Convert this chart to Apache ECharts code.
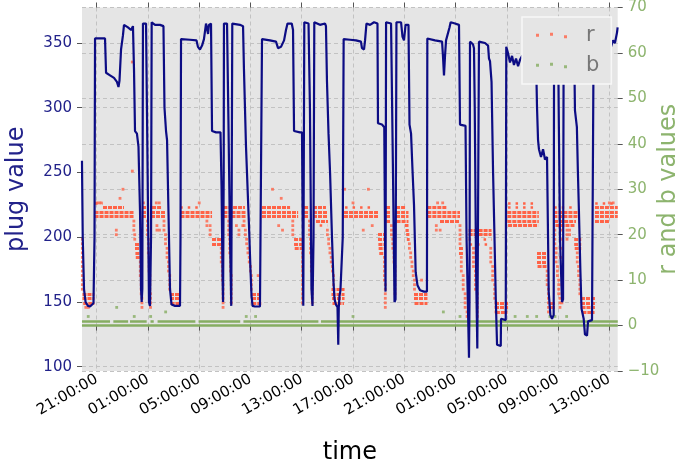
<!DOCTYPE html>
<html><head><meta charset="utf-8">
<script src="https://cdn.jsdelivr.net/npm/echarts@6/dist/echarts.min.js"></script>
<style>html,body{margin:0;padding:0;background:#fff}#c{width:685px;height:461px}</style>
</head><body><div id="c"></div>
<script>
// Time is stored as hours counted from 00:00 of the first day.
const xTickHours = [21,25,29,33,37,41,45,49,53,57,61];
const leftTicks = [100,150,200,250,300,350];
const xRange = [19.853, 61.655];
const leftRange = [96.7, 377.4];
const rightRange = [-10, 70];

// plug value trace: [hour, value]
const plug = [
[19.85,259],[19.91,200],[20.01,160],[20.13,150],[20.32,147],[20.48,146.5],[20.63,147],[20.75,149],[20.83,200],[20.87,353.5],
[21.65,353.5],[21.73,327],[22.04,325],[22.35,323],[22.58,320],[22.70,316],[22.78,321],[22.90,345],[23.05,356],[23.13,364],
[23.44,362],[23.68,360],[23.83,363],[23.91,330],[23.99,282],[24.14,280],[24.26,270],[24.38,220],[24.46,160],[24.51,150],
[24.56,160],[24.61,365],[24.85,365],[24.92,300],[25.08,150],[25.16,147],[25.24,200],[25.29,366],[25.55,364],[25.94,364],
[26.21,363],[26.29,300],[26.41,282],[26.49,275],[26.60,220],[26.72,160],[26.84,148],[27.11,147],[27.50,147],[27.54,200],
[27.58,353],[28.28,352.5],[28.79,352],[28.90,347],[29.06,345],[29.22,348],[29.37,353],[29.53,365],[29.69,357],[29.76,364],
[29.92,365],[30.00,282],[30.31,281],[30.66,281],[30.74,240],[30.82,170],[30.86,150],[30.91,250],[30.93,365],[31.17,365],
[31.28,290],[31.40,200],[31.50,147],[31.58,365],[32.18,364],[32.42,363],[32.49,330],[32.65,270],[32.88,210],[33.00,175],
[33.08,155],[33.16,147],[33.35,146.5],[33.74,146.5],[33.88,147],[33.90,353],[34.52,352],[34.99,351],[35.15,346],[35.38,347],
[35.62,352],[35.77,360],[35.89,365],[36.22,365],[36.32,360],[36.40,282],[36.86,281],[37.02,281],[37.12,147],[37.20,366],
[37.53,365],[37.64,300],[37.76,160],[37.84,147],[37.92,200],[37.98,366],[38.42,364],[38.82,365],[38.89,363],[38.97,320],
[39.09,280],[39.21,250],[39.36,200],[39.48,165],[39.56,152],[39.67,148],[39.79,146],[39.85,117],[39.89,146],[39.95,155],
[40.02,159],[40.14,159],[40.20,200],[40.27,353],[40.77,352.5],[41.23,352],[41.62,351],[41.70,346],[41.86,345],[41.94,352],
[42.05,365],[42.33,364],[42.64,366],[42.91,365],[42.95,288],[43.26,287],[43.44,285],[43.50,200],[43.54,158],[43.58,366],
[43.97,365],[44.12,250],[44.24,150],[44.32,152],[44.39,366],[44.75,366],[44.86,355],[44.98,352],[45.10,364],[45.33,364],
[45.41,287],[45.53,280],[45.63,255],[45.76,225],[45.89,173],[46.03,163],[46.23,159],[46.54,158],[46.77,158],[46.80,353.5],
[47.40,352],[47.95,351],[48.02,340],[48.10,325],[48.18,340],[48.26,352],[48.41,353],[48.53,362],[48.62,366],[48.96,365],
[49.27,364],[49.35,287],[49.78,286],[49.86,200],[50.05,107],[50.09,150],[50.13,351],[50.36,349],[50.44,346],[50.50,300],
[50.60,180],[50.70,114],[50.78,113],[50.83,351],[51.30,350],[51.54,348],[51.61,338],[51.69,336],[51.81,320],[51.93,250],
[52.04,200],[52.14,153],[52.24,117],[52.53,116],[52.55,137],[52.92,136],[52.96,347],[53.10,342],[53.25,335],[53.41,340],
[53.56,333],[53.72,338],[53.88,332],[54.03,337],[54.19,340],[55.28,340],[55.36,300],[55.44,275],[55.51,268],[55.67,262],
[55.83,268],[55.98,260],[56.14,262],[56.22,200],[56.27,158],[56.40,140],[56.53,137],[56.66,140],[56.69,360],[57.00,362],
[57.05,300],[57.15,200],[57.31,150],[57.39,152],[57.44,360],[57.93,362],[58.24,360],[58.32,298],[58.47,285],[58.55,250],
[58.63,220],[58.74,175],[58.83,145],[59.00,137],[59.10,125],[59.26,124],[59.34,135],[59.65,136],[59.73,137],[59.78,360],
[60.27,355],[60.95,350],[61.13,347],[61.29,352],[61.44,350],[61.60,358],[61.65,362]
];

// r: dense runs [r, fromHour, toHour]
const rBands = [
[7,19.89,20.82],[6,19.89,20.82],[5,19.95,20.82],
[25,20.83,23.91],[24,20.83,23.91],[26,21.49,23.13],
[18,23.99,24.42],[17,23.99,24.42],[16,24.02,24.42],[15,24.05,24.42],
[25,24.53,24.92],[24,24.53,24.92],[26,24.61,24.85],
[25,25.24,26.33],[24,25.24,26.33],[26,25.32,26.10],
[7,26.72,27.54],[6,26.72,27.54],[5,26.76,27.54],
[25,27.54,30.00],[24,27.54,30.00],
[19,30.00,30.70],[18,30.00,30.70],
[26,30.89,31.32],[25,30.89,31.32],[24,30.89,31.32],
[25,31.52,32.65],[24,31.52,32.65],[26,31.64,32.57],
[7,33.12,33.90],[6,33.12,33.90],[5,33.14,33.90],
[26,33.90,36.09],[25,33.90,36.72],[24,33.90,36.72],
[19,36.40,37.06],[18,36.40,37.06],[17,36.45,37.06],
[26,37.18,37.57],[25,37.18,37.57],[24,37.18,37.57],
[26,37.88,38.89],[25,37.88,38.97],[24,37.88,38.97],[23,38.11,39.05],
[8,39.32,40.34],[7,39.32,40.34],[6,39.36,40.34],[5,39.40,40.30],
[25,40.30,42.95],[24,40.30,42.95],
[20,42.95,43.50],[19,42.95,43.50],[18,42.98,43.50],[17,43.00,43.50],[16,43.05,43.45],
[26,43.58,43.89],[25,43.58,43.89],[24,43.58,43.89],[23,43.60,43.89],
[26,44.36,45.10],[25,44.36,45.33],[24,44.36,45.33],[23,44.40,45.33],
[22,45.05,45.33],[21,45.10,45.35],[20,45.15,45.40],[19,45.20,45.42],
[7,45.76,46.81],[6,45.76,46.81],[5,45.80,46.81],
[26,46.80,48.34],[25,46.80,49.35],[24,46.80,49.35],[23,47.79,49.35],
[17,49.27,49.58],[16,49.27,49.58],
[21,50.02,51.81],[20,50.02,51.81],
[5,52.08,53.10],[4,52.08,53.10],[3,52.15,53.05],
[25,53.04,55.50],[24,53.04,55.50],[23,53.04,55.50],[22,53.10,55.45],
[16,55.36,56.14],[15,55.36,56.14],[14,55.36,56.14],[13,55.40,56.10],
[5,56.29,56.76],[4,56.29,56.76],
[25,56.64,58.59],[24,56.64,58.59],[23,56.70,58.40],[22,56.80,58.30],
[19,58.26,58.81],[18,58.26,58.81],[17,58.30,58.81],
[6,58.79,59.88],[5,58.79,59.88],[4,58.83,59.88],[3,58.90,59.85],
[26,59.88,61.66],[25,59.88,61.66],[24,59.88,61.66],[23,59.88,61.05]
];
// r: sparse runs [r, fromHour, toHour]
const rSparse = [
[27,20.87,21.49],[26,27.52,29.14],[26,40.38,42.72],[22,38.40,39.00],[19,50.02,51.81],[18,50.10,51.70],
[27,53.10,55.40],[26,53.10,55.40],[26,56.70,58.30],[27,59.90,61.50]
];
// r: single readings [hour, [r values]]
const rDots = [
[19.88,[19,18,17,16,15,14,13,12,11,10,9,8]],[20.15,[4]],[20.35,[4]],
[21.00,[27]],[21.20,[27]],[21.35,[27]],
[22.53,[21,20]],[22.82,[28]],[23.05,[30]],[23.78,[34,58]],
[23.90,[23,22,21]],[23.97,[20,19]],
[24.40,[14,13,12,11]],[24.47,[10,9,8,7]],[24.53,[6,5,4]],[24.65,[27]],
[24.96,[23,22,21,20]],[25.03,[19,18,17,16]],[25.09,[15,14,13,12]],[25.15,[11,10,9,8]],[25.20,[7,6,5,4]],
[25.65,[27]],[25.88,[27]],[25.70,[22,21]],[25.90,[21]],
[26.25,[23,22,21]],[26.37,[20,19,18]],[26.49,[17,16,15]],[26.60,[14,13,12]],[26.70,[11,10,9,8]],
[29.00,[27]],[29.60,[23,22]],[29.85,[22,21,20]],
[30.72,[17,16,15,14]],[30.80,[13,12,11,10]],[30.86,[9,8,7,6,5,4]],
[31.30,[23,22,21,20]],[31.38,[19,18,17,16]],[31.45,[15,14,13,12]],[31.50,[11,10,9,8,7,6,5]],
[31.90,[22]],[32.10,[21,20]],[32.40,[22]],
[32.50,[23,22]],[32.60,[21,20]],[32.70,[19,18]],[32.80,[17,16]],[32.90,[15,14]],[33.00,[13,12]],[33.07,[11,10,9,8]],
[33.60,[11]],[34.72,[30]],[35.40,[28]],[35.20,[22]],[35.50,[21]],[36.30,[23,22,21,20]],
[37.06,[16,15,14,13,12,11,10,9,8,7,6,5]],
[37.60,[23,22,21,20]],[37.68,[19,18,17,16]],[37.75,[15,14,13,12]],[37.82,[11,10,9,8,7,6,5]],
[39.00,[21,20]],[39.10,[19,18]],[39.20,[17,16]],[39.30,[15,14]],[39.40,[13,12]],[39.48,[11,10,9]],
[40.35,[30]],[41.00,[27]],[42.20,[30]],[42.50,[22]],[41.80,[21]],
[43.45,[15,14,13,12,11,10]],[43.52,[9,8,7,6,5,4]],
[44.00,[22,21,20]],[44.10,[19,18,17]],[44.20,[16,15,14]],[44.28,[13,12,11,10,9,8,7]],
[45.40,[18,17]],[45.50,[16,15]],[45.60,[14,13]],[45.70,[12,11]],[45.80,[10,9,8]],[46.35,[10]],
[47.60,[27]],[48.00,[27]],[47.50,[22,21]],[47.80,[21]],
[49.35,[22,21,20,19,18]],[49.45,[15,14,13,12]],[49.60,[11,10,9,8]],[49.75,[7,6,5,4]],[49.90,[3,2]],
[50.40,[17,16,15,14,13]],[50.55,[12,11,10,9,8]],[50.70,[7,6,5,4,3,2]],
[51.75,[17,16,15,14]],[51.90,[13,12,11,10]],[52.05,[9,8,7,6]],[52.15,[5,4,3]],
[56.15,[12,11,10,9]],[56.25,[8,7,6,5,4,3]],
[56.75,[21,20,19,18]],[56.85,[17,16,15,14]],[56.95,[13,12,11]],[57.05,[10,9,8,7]],[57.15,[6,5,4]],
[57.20,[21,19,17,15]],[57.30,[13,11,9,7,5]],[57.70,[21,20,19]],[57.90,[21,20]],
[58.50,[16,15,14]],[58.60,[13,12,11]],[58.70,[10,9,8,7]],
[61.00,[27]],[61.30,[27]]
];
// b: runs [b, fromHour, toHour] and single readings [hour, b]
const bBands = [
[0,19.85,61.66],[1,19.85,22.04],[1,22.30,23.45],[1,23.60,24.90],[1,25.20,25.45],[1,25.75,28.70],
[1,28.95,32.20],[1,32.45,38.30],[1,38.50,61.66]
];
const bDots = [
[20.34,2],[22.56,4],[23.93,2],[25.21,2],[26.38,3],[32.67,2],[33.40,2],[41.00,2],[48.05,3],[49.35,2],
[53.65,2],[54.60,2],[55.33,2],[56.37,2],[56.76,2],[57.67,2]
];

const FONT = 'DejaVu Sans';
const NAVY = '#22228a', GREEN = '#8db46e', RED = '#ff6347', BGREEN = '#86ad62', LINE = '#0c0c84';
const pad = n => String(n).padStart(2, '0');
const fmtHour = h => {
  const m = Math.round((((h % 24) + 24) % 24) * 60);
  return pad(Math.floor(m / 60) % 24) + ':' + pad(m % 60) + ':00';
};
const gridLine = {show: true, lineStyle: {color: '#c2c2c2', type: [4, 3], width: 1}};
const tickStyle = {color: '#555', width: 1};
const ICON = 'path://M0,1h3v3h-3zM14,0h3v3h-3zM28,2.5h3v3h-3z';

const runs = list => list.map(b => ({coords: [[b[1], b[0]], [b[2], b[0]]]}));
const rPoints = [];
rDots.forEach(c => c[1].forEach(r => rPoints.push([c[0], r])));

const chart = echarts.init(document.getElementById('c'), null, {renderer: 'canvas'});
chart.setOption({
  animation: false,
  backgroundColor: '#ffffff',
  textStyle: {fontFamily: FONT},
  grid: {left: 82, right: 67.3, top: 7.5, bottom: 90, show: true, backgroundColor: '#e5e5e5', borderWidth: 0,
         containLabel: false, outerBoundsMode: 'none'},
  legend: {
    orient: 'vertical', left: 522, top: 17, z: 20,
    padding: [8, 12, 8, 14], itemGap: 9, itemWidth: 31, itemHeight: 5.5,
    backgroundColor: '#e5e5e5', borderColor: '#f7f7f7', borderWidth: 1.5,
    textStyle: {fontSize: 21, color: '#777777', fontFamily: FONT, padding: [0, 0, 0, 14], lineHeight: 21},
    data: [{name: 'r', icon: ICON}, {name: 'b', icon: ICON}],
    selectedMode: false
  },
  xAxis: [{
    type: 'value', min: xRange[0], max: xRange[1], position: 'bottom',
    axisLine: {show: false},
    axisTick: {show: true, customValues: xTickHours, length: 5, lineStyle: tickStyle},
    axisLabel: {customValues: xTickHours, formatter: fmtHour, rotate: 30, fontSize: 15, color: '#000', fontFamily: FONT, margin: 7},
    splitLine: gridLine,
    name: 'time', nameLocation: 'middle', nameGap: 70,
    nameTextStyle: {fontSize: 24, fontFamily: FONT, color: '#000'}
  }, {
    type: 'value', min: xRange[0], max: xRange[1], position: 'top',
    axisLine: {show: false},
    axisTick: {show: true, customValues: xTickHours, length: 5, lineStyle: tickStyle},
    axisLabel: {show: false}, splitLine: {show: false}
  }],
  yAxis: [{
    type: 'value', min: leftRange[0], max: leftRange[1], position: 'left',
    axisLine: {show: false},
    axisTick: {show: true, customValues: leftTicks, length: 5, lineStyle: tickStyle},
    axisLabel: {customValues: leftTicks, color: NAVY, fontSize: 15, fontFamily: FONT, margin: 10},
    splitLine: gridLine,
    name: 'plug value', nameLocation: 'middle', nameGap: 53, nameMoveOverlap: false,
    nameTextStyle: {fontSize: 24, fontFamily: FONT, color: NAVY}
  }, {
    type: 'value', min: rightRange[0], max: rightRange[1], interval: 10, position: 'right',
    axisLine: {show: false},
    axisTick: {show: true, length: 5, lineStyle: tickStyle},
    axisLabel: {color: GREEN, fontSize: 15, fontFamily: FONT, margin: 10,
      formatter: v => v < 0 ? '\u2212' + (-v) : String(v)},
    splitLine: gridLine,
    name: 'r and b values', nameLocation: 'middle', nameGap: 39, nameMoveOverlap: false,
    nameTextStyle: {fontSize: 24, fontFamily: FONT, color: GREEN}
  }],
  series: [
    {type: 'scatter', name: 'r', xAxisIndex: 0, yAxisIndex: 1, symbol: 'rect', symbolSize: 2.8,
     itemStyle: {color: RED}, data: rPoints, z: 3, silent: true},
    {type: 'lines', name: 'r', coordinateSystem: 'cartesian2d', xAxisIndex: 0, yAxisIndex: 1,
     lineStyle: {color: RED, width: 2.8, type: [4, 1], opacity: 1}, data: runs(rBands), z: 3, silent: true},
    {type: 'lines', name: 'r', coordinateSystem: 'cartesian2d', xAxisIndex: 0, yAxisIndex: 1,
     lineStyle: {color: RED, width: 2.6, type: [2.5, 5], opacity: 1}, data: runs(rSparse), z: 3, silent: true},
    {type: 'scatter', name: 'b', xAxisIndex: 0, yAxisIndex: 1, symbol: 'rect', symbolSize: 2.8,
     itemStyle: {color: BGREEN}, data: bDots, z: 3, silent: true},
    {type: 'lines', name: 'b', coordinateSystem: 'cartesian2d', xAxisIndex: 0, yAxisIndex: 1,
     lineStyle: {color: BGREEN, width: 2.6, type: 'solid', opacity: 1}, data: runs(bBands), z: 3, silent: true},
    {type: 'line', name: 'plug', xAxisIndex: 0, yAxisIndex: 0, showSymbol: false, symbol: 'none',
     lineStyle: {color: LINE, width: 2.2}, data: plug, z: 4, silent: true}
  ]
});
</script>
</body></html>
